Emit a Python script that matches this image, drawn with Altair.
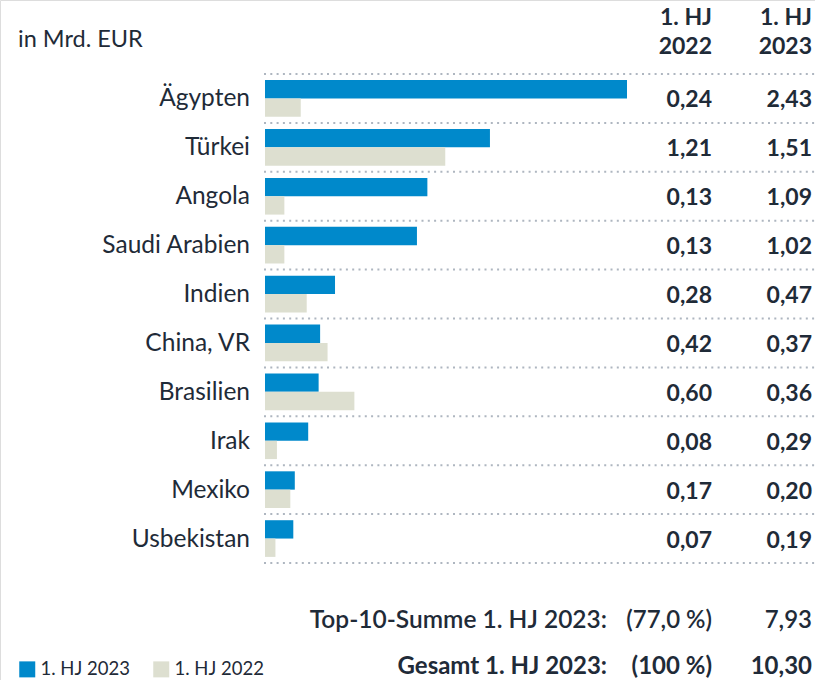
import altair as alt
import pandas as pd

countries = ["Ägypten", "Türkei", "Angola", "Saudi Arabien", "Indien",
             "China, VR", "Brasilien", "Irak", "Mexiko", "Usbekistan"]
v2023 = [2.43, 1.51, 1.09, 1.02, 0.47, 0.37, 0.36, 0.29, 0.20, 0.19]
v2022 = [0.24, 1.21, 0.13, 0.13, 0.28, 0.42, 0.60, 0.08, 0.17, 0.07]
series = ["1. HJ 2023", "1. HJ 2022"]
colors = ["#0089CB", "#DDDFD0"]

FONT = "Lato, sans-serif"
INK = "#1f2b38"

def de(v):
    return f"{v:.2f}".replace(".", ",")

rows = []
for c, a, b in zip(countries, v2023, v2022):
    rows.append({"country": c, "series": series[0], "value": a})
    rows.append({"country": c, "series": series[1], "value": b})
bars_df = pd.DataFrame(rows)

labels_df = pd.DataFrame({
    "country": countries,
    "l2022": [de(v) for v in v2022],
    "l2023": [de(v) for v in v2023],
})

grid_df = pd.DataFrame({"i": list(range(len(countries) + 1))})

yscale = alt.Scale(domain=countries, range=[74, 563], paddingInner=0.25, paddingOuter=0.125)

bars = alt.Chart(bars_df).mark_bar().encode(
    x=alt.X("value:Q", scale=alt.Scale(domain=[0, 2.43], range=[265, 627]), axis=None),
    y=alt.Y("country:N", scale=yscale, axis=None, sort=countries),
    yOffset=alt.YOffset("series:N", scale=alt.Scale(domain=series, paddingInner=0), sort=series),
    color=alt.Color("series:N", scale=alt.Scale(domain=series, range=colors),
                    legend=alt.Legend(orient="none", legendX=18, legendY=660, direction="horizontal",
                                      title=None, symbolType="square", symbolSize=256,
                                      symbolStrokeWidth=0, labelFont=FONT, labelFontSize=18.5,
                                      labelColor=INK, labelOffset=4, columnPadding=22,
                                      symbolOpacity=1)),
)

names = alt.Chart(labels_df).mark_text(align="right", baseline="middle", font=FONT,
                                       fontSize=24.5, color=INK, dy=1).encode(
    x=alt.value(250),
    y=alt.Y("country:N", scale=yscale, axis=None, sort=countries),
    text="country:N",
)
t22 = alt.Chart(labels_df).mark_text(align="right", baseline="middle", font=FONT,
                                     fontSize=23, fontWeight="bold", color=INK, dy=2).encode(
    x=alt.value(712),
    y=alt.Y("country:N", scale=yscale, axis=None, sort=countries),
    text="l2022:N",
)
t23 = alt.Chart(labels_df).mark_text(align="right", baseline="middle", font=FONT,
                                     fontSize=23, fontWeight="bold", color=INK, dy=2).encode(
    x=alt.value(812),
    y=alt.Y("country:N", scale=yscale, axis=None, sort=countries),
    text="l2023:N",
)

grid = alt.Chart(grid_df).mark_rule(strokeDash=[2, 4.3], strokeWidth=2, color="#aeb6c0").encode(
    x=alt.value(264), x2=alt.value(815),
    y=alt.Y("i:Q", scale=alt.Scale(domain=[0, len(countries)], range=[74, 563]), axis=None),
)

def txt(s, x, y, size=20, weight="normal", align="right"):
    return alt.Chart(pd.DataFrame({"t": [s]})).mark_text(
        align=align, baseline="middle", font=FONT, fontSize=size, fontWeight=weight,
        color=INK).encode(x=alt.value(x), y=alt.value(y), text="t:N")

annots = [
    txt("in Mrd. EUR", 18, 40, 23.5, "normal", "left"),
    txt("1. HJ", 712, 18, 23, "bold"),
    txt("2022", 712, 47, 23, "bold"),
    txt("1. HJ", 812, 18, 23, "bold"),
    txt("2023", 812, 47, 23, "bold"),
    txt("Top-10-Summe 1. HJ 2023:", 607, 621, 24.5, 600),
    txt("(77,0 %)", 712, 621, 24, 600),
    txt("7,93", 812, 621, 24, 600),
    txt("Gesamt 1. HJ 2023:", 607, 667, 24, "bold"),
    txt("(100 %)", 712, 667, 24, "bold"),
    txt("10,30", 812, 667, 24, "bold"),
]

chart = alt.layer(grid, bars, names, t22, t23, *annots).resolve_scale(y="independent").properties(
    width=815, height=680, padding=0, autosize=alt.AutoSizeParams(type="none"),
).configure_view(stroke=None).configure(background="white")

chart.save("out.html", embed_options={"renderer": "svg", "actions": False})
